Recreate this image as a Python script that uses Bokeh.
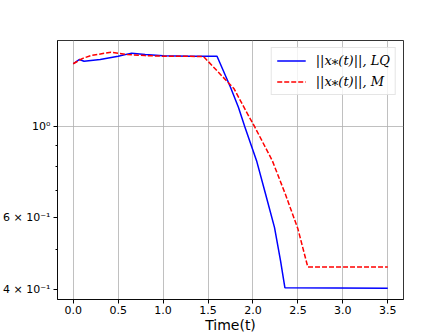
from bokeh.plotting import figure
from bokeh.models import Range1d, FixedTicker, Legend, LegendItem, NumeralTickFormatter
from bokeh.embed import file_html
from bokeh.resources import INLINE

# ||x*(t)|| for the LQ controller
t_lq = [0.0, 0.07, 0.12, 0.3, 0.5, 0.65, 0.8, 1.0, 1.3, 1.6, 1.75, 1.838, 1.91, 2.04, 2.14, 2.24, 2.307, 2.355, 3.5]
x_lq = [1.428, 1.463, 1.448, 1.462, 1.49, 1.516, 1.505, 1.494, 1.49, 1.49, 1.251, 1.117, 1.0, 0.827, 0.685, 0.567, 0.47, 0.404, 0.403]

# ||x*(t)|| for M
t_m = [0.0, 0.1, 0.2, 0.42, 0.6, 0.8, 1.0, 1.2, 1.45, 1.79, 1.92, 2.02, 2.215, 2.36, 2.5, 2.61, 3.5]
x_m = [1.428, 1.47, 1.496, 1.524, 1.504, 1.495, 1.49, 1.49, 1.487, 1.24, 1.096, 1.0, 0.827, 0.685, 0.563, 0.454, 0.454]

x_ticks = [0.0, 0.5, 1.0, 1.5, 2.0, 2.5, 3.0, 3.5]
y_ticks = [0.4, 0.6, 1.0]
y_tick_labels = ["4 × 10⁻¹", "6 × 10⁻¹", "10⁰"]
y_minor = [0.5, 0.7, 0.8, 0.9]
y_grid = [1.0]

FONT = "DejaVu Sans"

p = figure(width=448, height=336, output_backend="svg", toolbar_location=None,
           y_axis_type="log",
           x_range=Range1d(-0.175, 3.675), y_range=Range1d(0.378, 1.628),
           min_border_left=56, min_border_right=45, min_border_top=40, min_border_bottom=37)

r1 = p.line(t_lq, x_lq, line_color="#0000ff", line_width=1.5)
r2 = p.line(t_m, x_m, line_color="#ff0000", line_width=1.5, line_dash="5 2")

p.xaxis.ticker = FixedTicker(ticks=x_ticks)
p.xaxis.formatter = NumeralTickFormatter(format="0.0")
p.yaxis.ticker = FixedTicker(ticks=y_ticks, minor_ticks=y_minor)
p.yaxis.major_label_overrides = {v: s for v, s in zip(y_ticks, y_tick_labels)}

p.xgrid.ticker = FixedTicker(ticks=x_ticks)
p.ygrid.ticker = FixedTicker(ticks=y_grid)
for g in (p.xgrid, p.ygrid):
    g.grid_line_color = "#b0b0b0"
    g.grid_line_width = 0.8

for ax in (p.xaxis, p.yaxis):
    ax.axis_line_color = "black"
    ax.axis_line_width = 0.8
    ax.major_tick_line_color = "black"
    ax.minor_tick_line_color = "black"
    ax.major_tick_out = 4
    ax.major_tick_in = 0
    ax.minor_tick_out = 2
    ax.minor_tick_in = 0
    ax.major_label_text_font = FONT
    ax.major_label_text_font_size = "11px"
    ax.major_label_text_color = "black"
    ax.major_label_standoff = 3
p.xaxis.minor_tick_line_color = None
p.xaxis.major_label_standoff = 2

p.xaxis.axis_label = "Time(t)"
p.xaxis.axis_label_text_font = FONT
p.xaxis.axis_label_text_font_size = "14px"
p.xaxis.axis_label_text_font_style = "normal"
p.xaxis.axis_label_text_color = "black"
p.xaxis.axis_label_standoff = 0

p.outline_line_color = "black"
p.outline_line_width = 0.8
p.background_fill_color = "white"
p.border_fill_color = "white"

legend = Legend(items=[LegendItem(label="||x⁎(t)||, LQ", renderers=[r1]),
                       LegendItem(label="||x⁎(t)||, M", renderers=[r2])],
                location="top_right")
legend.label_text_font = "DejaVu Serif"
legend.label_text_font_size = "13px"
legend.label_text_font_style = "italic"
legend.label_text_color = "black"
legend.glyph_width = 29
legend.glyph_height = 15
legend.label_standoff = 10
legend.spacing = 6
legend.padding = 5
legend.margin = 7
legend.border_line_color = "#cccccc"
legend.border_line_width = 1
legend.background_fill_alpha = 0.8
p.add_layout(legend)

open("out.html", "w").write(file_html(p, INLINE))
